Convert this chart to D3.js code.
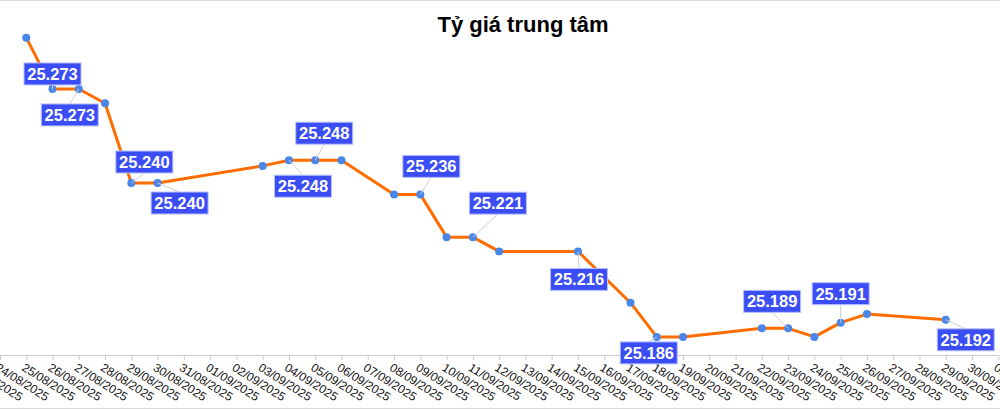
<!DOCTYPE html>
<html>
<head>
<meta charset="utf-8">
<script src="https://cdn.jsdelivr.net/npm/d3@7"></script>
<style>
  body { margin: 0; background: #fff; }
  svg { display: block; font-family: "Liberation Sans", Arial, sans-serif; }
</style>
</head>
<body>
<svg id="chart"></svg>
<script>
const TITLE = "Tỷ giá trung tâm";

// every day on the axis (the first and last fall outside the frame)
const tickLabels = [
    "23/08/2025","24/08/2025","25/08/2025","26/08/2025","27/08/2025","28/08/2025","29/08/2025",
    "30/08/2025","31/08/2025","01/09/2025","02/09/2025","03/09/2025","04/09/2025","05/09/2025",
    "06/09/2025","07/09/2025","08/09/2025","09/09/2025","10/09/2025","11/09/2025","12/09/2025",
    "13/09/2025","14/09/2025","15/09/2025","16/09/2025","17/09/2025","18/09/2025","19/09/2025",
    "20/09/2025","21/09/2025","22/09/2025","23/09/2025","24/09/2025","25/09/2025","26/09/2025",
    "27/09/2025","28/09/2025","29/09/2025","30/09/2025","01/10/2025"
];

const dates = [
    "25/08/2025","26/08/2025","27/08/2025","28/08/2025","29/08/2025","30/08/2025",
    "03/09/2025","04/09/2025","05/09/2025","06/09/2025","08/09/2025","09/09/2025",
    "10/09/2025","11/09/2025","12/09/2025","15/09/2025","17/09/2025","18/09/2025",
    "19/09/2025","22/09/2025","23/09/2025","24/09/2025","25/09/2025","26/09/2025",
    "29/09/2025"
];
const rates = [
    25291, 25273, 25273, 25268, 25240, 25240,
    25246, 25248, 25248, 25248, 25236, 25236,
    25221, 25221, 25216, 25216, 25198, 25186,
    25186, 25189, 25189, 25186, 25191, 25194,
    25192
];

// which points carry a value label
const labelDates = [
    "26/08/2025","27/08/2025","29/08/2025","30/08/2025","04/09/2025","05/09/2025",
    "09/09/2025","11/09/2025","15/09/2025","18/09/2025","23/09/2025","25/09/2025","29/09/2025"
];
// label box placement: [dx of box centre, dy of box edge] from its point
const labelPlace = [
    [0,-4],[-9,15],[13,-10],[22,9],[14,15],[9,-16],
    [11,-17],[25,-23],[1,17],[-8,5],[-16,-16],[0,-18],[20,9]
];

const width = 1000, height = 409;
const axisY = 355;

const svg = d3.select("#chart")
    .attr("width", width)
    .attr("height", height);

// frame lines
svg.append("line").attr("x1",0).attr("x2",width).attr("y1",0.5).attr("y2",0.5)
    .attr("stroke","#dadada");
svg.append("line").attr("x1",0).attr("x2",width).attr("y1",height-0.5).attr("y2",height-0.5)
    .attr("stroke","#dadada");

svg.append("text")
    .attr("x", 523)
    .attr("y", 32)
    .attr("text-anchor", "middle")
    .attr("font-size", 22)
    .attr("font-weight", "bold")
    .attr("fill", "#000")
    .text(TITLE);

const x = d3.scalePoint()
    .domain(tickLabels)
    .range([-26.3, 998.3]);

const y = d3.scaleLinear()
    .domain([25180, 25300])
    .range([354, 12]);

// X axis
const xaxis = svg.append("g")
    .attr("transform", `translate(0, ${axisY})`)
    .call(d3.axisBottom(x).tickSize(5).tickSizeOuter(0));
xaxis.select(".domain").attr("stroke", "#cccccc");
xaxis.selectAll(".tick line").attr("stroke", "#cccccc");
xaxis.selectAll("text")
    .attr("x", 0)
    .attr("y", 0)
    .attr("dy", "0.75em")
    .attr("transform", "translate(-1,7)rotate(32)")
    .style("text-anchor", "start")
    .attr("font-size", 12)
    .attr("font-family", "\"Liberation Sans\", Arial, sans-serif")
    .attr("fill", "#111");

// line
const line = d3.line()
    .x((_d,i) => x(dates[i]))
    .y(d => y(d));
svg.append("path")
    .datum(rates)
    .attr("fill", "none")
    .attr("stroke", "#ff6d01")
    .attr("stroke-width", 3)
    .attr("stroke-linejoin", "round")
    .attr("d", line);

svg.selectAll(".dot")
    .data(rates)
    .join("circle")
    .attr("class", "dot")
    .attr("cx", (_d,i) => x(dates[i]))
    .attr("cy", d => y(d))
    .attr("r", 4)
    .attr("fill", "#4a86e8");

// value labels
const fmt = v => d3.format(",")(v).replace(",", ".");
const boxW = 57, boxH = 22;
svg.selectAll(".vlabel")
    .data(labelDates)
    .join("g")
    .attr("class", "vlabel")
    .each(function(dt, k) {
        const i = dates.indexOf(dt);
        const px = x(dt), py = y(rates[i]);
        const [dx, dy] = labelPlace[k];
        const cx = px + dx;
        const top = dy < 0 ? py + dy - boxH : py + dy;
        const edgeY = dy < 0 ? top + boxH : top;
        const g = d3.select(this);
        g.append("line")
            .attr("x1", px).attr("y1", py)
            .attr("x2", cx).attr("y2", edgeY)
            .attr("stroke", "#cfcfcf")
            .attr("stroke-width", 1);
        g.append("rect")
            .attr("x", cx - boxW / 2)
            .attr("y", top)
            .attr("width", boxW)
            .attr("height", boxH)
            .attr("fill", "#3b4ef5")
            .attr("stroke", "#b8c0ff")
            .attr("stroke-width", 1);
        g.append("text")
            .attr("x", cx)
            .attr("y", top + boxH / 2)
            .attr("dy", "0.36em")
            .attr("text-anchor", "middle")
            .attr("font-size", 16.5)
            .attr("font-weight", "bold")
            .attr("fill", "#fff")
            .text(fmt(rates[i]));
    });
</script>
</body>
</html>
